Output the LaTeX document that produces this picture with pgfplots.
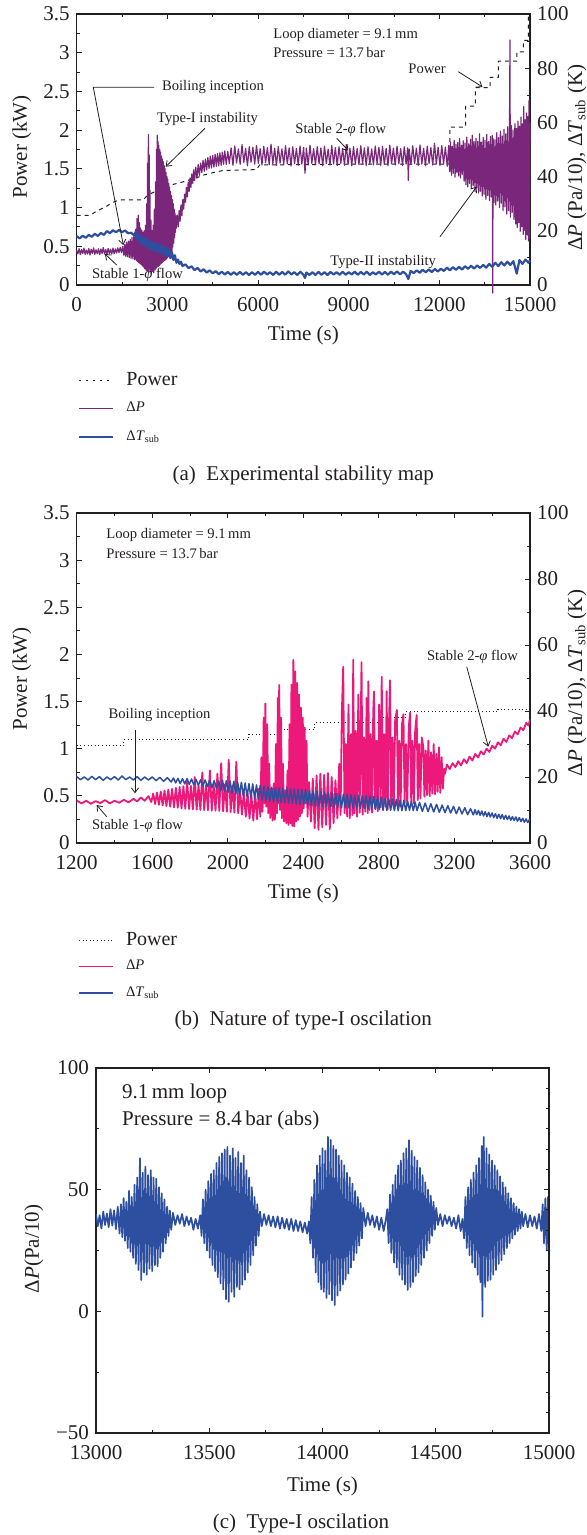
\documentclass[border=0pt]{standalone}
\usepackage{pgfplots}
\pgfplotsset{compat=1.18}
\usepackage{fontspec}
\setmainfont{Liberation Serif}
\usetikzlibrary{arrows.meta}
\definecolor{cpurple}{RGB}{122,38,122}
\definecolor{cblue}{RGB}{46,78,160}
\definecolor{cpink}{RGB}{236,24,122}
\definecolor{ctext}{RGB}{35,31,32}
\newcommand{\ticksz}{\fontsize{10.5}{12}\selectfont}
\newcommand{\annsz}{\fontsize{7.3}{8.5}\selectfont}
\pgfplotsset{
  myaxis/.style={
    scale only axis,
    scaled x ticks=false,
    scaled y ticks=false,
    /pgf/number format/assume math mode=true,
    /pgf/number format/1000 sep={},
    tick label style={font=\ticksz, text=ctext},
    xticklabel style={yshift=-2.8pt},
    label style={font=\ticksz, text=ctext},
    tick align=inside,
    major tick length=2.5pt,
    minor tick length=1.6pt,
    axis line style={line width=0.6pt, draw=ctext},
    tick style={line width=0.5pt, draw=ctext},
    every axis plot/.append style={line join=round},
  },
  leg/.style={
    legend style={draw=none, fill=none, inner sep=0pt, outer sep=0pt, row sep=0pt,
      nodes={inner sep=0pt, text=ctext},
      /tikz/every odd column/.append style={column sep=6pt}},
    legend cell align=left,
  },
}
\begin{document}
\begin{tikzpicture}
\useasboundingbox (0,0) rectangle (293.5pt,-767.5pt);
% ---------------- Panel (a) ----------------
\begin{axis}[myaxis,
  at={(38.35pt,-142.5pt)}, anchor=south west,
  width=226.65pt, height=135.5pt,
  xmin=0, xmax=15000, ymin=0, ymax=3.5,
  xtick={0,3000,6000,9000,12000,15000}, minor x tick num=1,
  ytick={0,0.5,1,1.5,2,2.5,3,3.5}, minor y tick num=1,
  xtick pos=both, ytick pos=left,
  xlabel={Time (s)}, ylabel={Power (kW)},
  xlabel style={at={(axis description cs:0.5,-0.1845)}, anchor=center},
  ylabel style={at={(axis description cs:-0.121,0.51)}, anchor=center},
]
\addplot[ctext, line width=0.5pt, dash pattern=on 2pt off 2pt] coordinates {
(0,0.90)(450,0.90)(600,0.94)(800,0.98)(1000,1.02)(1150,1.06)(1350,1.09)(1500,1.10)(2200,1.10)(2300,1.14)(2500,1.19)(2700,1.22)(2900,1.26)(3100,1.29)(3300,1.31)(3500,1.33)(3750,1.36)(4000,1.39)(4200,1.42)(4500,1.45)(4850,1.48)(5950,1.49)(6050,1.55)(9000,1.56)(12350,1.56)(12350,2.04)(12870,2.04)(12870,2.31)(13190,2.31)(13190,2.55)(13680,2.55)(13680,2.68)(13955,2.68)(13955,2.89)(14565,2.89)(14565,3.01)(14780,3.01)(14780,3.16)(14950,3.16)(14950,3.49)(15000,3.49)};
\end{axis}
\begin{axis}[myaxis, leg,
  at={(38.35pt,-142.5pt)}, anchor=south west,
  width=226.65pt, height=135.5pt,
  xmin=0, xmax=15000, ymin=0, ymax=100,
  axis x line=none, axis y line*=right,
  ytick={0,20,40,60,80,100}, minor y tick num=1,
  ylabel={Δ\textit{P} (Pa/10), Δ\textit{T}\textsubscript{sub} (K)},
  ylabel style={at={(axis description cs:1.104,0.47)}, anchor=center},
  clip=false,
  legend style={at={(axis description cs:0.003,-0.298)}, anchor=north west, nodes={minimum height=14.25pt}},
]
\addlegendimage{ctext, line width=0.5pt, dash pattern=on 1pt off 2.5pt}
\addlegendentry{\fontsize{10}{12}\selectfont Power}
\addplot[cpurple, line width=0.6pt] coordinates {
(0,12.8)(40,11.5)(80,13.4)(120,11.2)(160,13.1)(200,11.6)(240,13.6)(280,11.3)(320,12.9)(360,11.4)(400,13.5)(440,11.1)(480,13.2)(520,11.6)(560,13.7)(600,11.3)(640,13.0)(680,11.5)(720,13.4)(760,11.2)(800,13.3)(840,11.6)(880,13.8)(920,11.4)(960,13.1)(1000,11.3)(1040,13.5)(1080,11.6)(1120,13.2)(1160,11.4)(1200,13.6)(1240,11.5)(1280,13.3)(1320,11.8)(1360,13.7)(1400,11.9)(1440,13.9)(1480,12.0)(1520,14.2)
(1560,11.0)(1590,15.0)(1620,10.6)(1650,15.8)(1680,10.4)(1710,16.2)(1740,10.1)(1770,16.8)(1800,9.8)(1830,17.5)(1860,9.6)(1890,18.5)(1920,9.3)(1950,20.5)(1975,9.0)(1995,24.5)(2015,8.6)(2035,25.8)(2055,8.2)(2075,23.0)(2095,7.8)(2115,21.0)(2135,7.5)(2155,20.2)(2175,7.0)(2195,19.5)(2215,6.6)(2235,20.0)(2255,6.0)(2275,22.0)(2295,5.5)(2315,30.0)(2330,5.0)(2345,45.0)(2360,5.2)(2372,55.5)(2385,4.6)(2398,48.0)(2410,6.0)(2425,35.0)(2440,5.0)(2455,24.0)(2470,4.2)(2490,20.0)(2510,5.0)(2530,22.0)(2550,4.5)(2570,28.0)(2590,5.5)(2610,38.0)(2625,6.0)(2640,50.0)(2652,6.5)(2664,55.3)(2676,7.0)(2688,53.0)(2700,6.8)(2715,51.5)(2730,7.2)(2745,50.0)(2760,7.5)(2775,49.0)(2790,7.8)(2805,47.5)(2820,8.2)(2835,46.5)(2850,8.5)(2865,45.5)(2880,8.8)(2895,44.0)(2910,9.0)(2925,43.0)(2940,9.3)(2955,41.5)(2970,9.6)(2985,40.0)(3000,10.0)(3015,39.0)(3030,10.4)(3045,37.5)(3060,10.8)(3075,36.0)(3090,11.2)(3105,34.5)(3120,11.8)(3135,33.0)(3150,12.5)(3165,31.5)(3180,14.0)(3195,30.0)(3210,15.5)(3225,28.0)(3240,17.5)(3255,26.5)(3270,19.5)(3285,25.5)(3300,21.0)
(3330,25.8)(3360,21.5)(3390,27.5)(3420,23.5)(3450,29.5)(3480,25.5)(3510,31.5)(3540,28.0)(3570,33.5)(3600,30.5)(3630,36.0)(3660,32.5)(3690,38.0)(3720,34.5)(3750,39.5)(3780,36.0)(3810,41.0)(3840,37.5)(3870,42.5)(3900,38.5)(3940,43.5)(3980,39.5)(4020,44.5)(4060,40.5)(4100,45.0)(4140,41.5)(4180,46.0)(4220,42.0)(4260,46.5)(4300,42.5)(4340,47.0)(4380,43.0)(4420,47.5)(4460,43.2)(4500,47.8)(4540,43.5)(4580,48.2)(4620,43.8)(4660,48.5)(4700,44.0)(4740,48.8)(4780,44.2)(4820,49.0)(4860,44.5)(4900,49.5)(4950,44.5)(5000,49.3)
(5050,44.8)(5110,50.6)(5170,44.2)(5230,51.3)(5290,45.0)(5350,50.2)(5410,44.5)(5470,51.8)(5530,45.2)(5590,50.4)(5650,44.0)(5710,51.0)(5770,45.3)(5830,50.8)(5890,44.6)(5950,51.5)(6010,44.9)(6070,50.3)(6130,44.3)(6190,51.2)(6250,45.1)(6310,50.7)(6370,44.4)(6430,51.9)(6490,44.8)(6550,50.5)(6610,44.1)(6670,51.1)(6730,45.0)(6790,50.2)(6850,44.5)(6910,51.4)(6970,44.7)(7030,50.6)(7090,43.9)(7150,51.0)(7210,44.8)(7270,50.4)(7330,44.2)(7390,51.3)(7450,44.6)(7510,50.8)(7555,41.2)(7600,50.5)(7660,44.3)(7720,51.6)(7780,44.9)(7840,50.3)(7900,44.4)(7960,51.0)(8020,44.7)(8080,50.6)(8140,44.0)(8200,51.2)(8260,44.8)(8320,50.1)(8380,44.3)(8440,51.5)(8500,44.6)(8560,50.7)(8620,44.1)(8680,51.0)(8740,44.9)(8800,50.4)(8860,44.2)(8920,51.8)(8980,44.5)(9040,50.5)(9100,44.0)(9160,51.1)(9220,44.7)(9280,50.3)(9340,44.4)(9400,51.4)(9460,44.8)(9520,50.6)(9580,44.1)(9640,51.0)(9700,44.6)(9760,50.2)(9820,44.3)(9880,51.3)(9940,44.9)(10000,50.8)(10060,44.2)(10120,51.1)(10180,44.5)(10240,50.4)(10300,44.0)(10360,51.6)(10420,44.7)(10480,50.5)(10540,44.3)(10600,51.2)(10660,44.8)(10720,50.3)(10780,44.1)(10840,51.0)(10900,44.6)(10950,50.6)(10974,38.6)(11000,50.2)(11060,44.4)(11120,51.4)(11180,44.8)(11240,50.5)(11300,44.2)(11360,51.7)(11420,44.6)(11480,50.4)(11540,44.0)(11600,51.2)(11660,44.9)(11720,50.7)(11780,44.3)(11840,52.3)(11900,44.6)(11960,50.8)(12020,44.1)(12080,51.5)(12140,44.7)(12200,50.9)(12260,43.8)
(12310,51.5)(12340,41.8)(12370,52.8)(12400,40.5)(12430,51.2)(12460,41.2)(12490,53.4)(12520,39.8)(12550,51.9)(12580,41.5)(12610,52.6)(12640,40.2)(12670,54.0)(12700,39.5)(12730,51.6)(12760,40.8)(12790,53.2)(12820,38.2)(12850,52.4)(12880,37.0)(12910,54.6)(12940,36.2)(12970,52.1)(13000,37.5)(13030,53.8)(13060,35.6)(13090,55.3)(13120,36.8)(13150,52.9)(13180,34.5)(13210,54.2)(13240,35.8)(13270,53.0)(13300,33.9)(13330,55.8)(13360,34.6)(13390,52.7)(13420,32.8)(13450,54.5)(13480,33.5)(13510,53.3)(13540,31.6)(13570,55.6)(13600,33.0)(13630,52.9)(13660,31.2)(13690,54.8)(13720,32.5)(13750,55.2)(13765,-3.0)(13780,54.0)(13810,30.4)(13840,53.6)(13870,29.5)(13900,56.2)(13930,31.0)(13960,54.4)(13990,28.6)(14020,56.8)(14050,30.2)(14080,55.0)(14110,27.4)(14140,57.5)(14170,28.8)(14200,55.8)(14230,26.2)(14260,58.4)(14290,27.5)(14320,56.3)(14338,90.4)(14350,25.0)(14380,58.9)(14410,26.8)(14440,57.2)(14470,24.2)(14500,59.6)(14525,22.5)(14550,57.8)(14575,21.2)(14600,60.5)(14625,23.0)(14650,58.6)(14675,19.8)(14700,62.0)(14725,21.5)(14750,59.4)(14775,18.6)(14790,65.8)(14810,20.2)(14835,61.0)(14860,16.8)(14885,63.5)(14910,18.5)(14935,62.2)(14950,16.2)(14965,68.0)(14980,17.2)(15000,60.0)};
\addlegendentry{\annsz Δ\textit{P}}
\addplot[cblue, line width=1.1pt] coordinates {
(0,18.0)(100,17.2)(200,18.2)(300,17.4)(400,18.5)(500,17.8)(600,18.9)(700,18.1)(800,19.2)(900,18.5)(1000,19.9)(1100,19.1)(1200,20.2)(1300,19.5)(1400,20.3)(1500,19.5)(1600,20.1)(1700,19.1)(1800,19.3)(1900,18.3)
(1950,19.6)(2000,16.6)(2050,18.8)(2100,15.6)(2150,18.1)(2200,14.8)(2250,17.4)(2300,14.0)(2350,16.8)(2400,13.4)(2450,16.2)(2500,12.8)(2550,15.7)(2600,12.5)(2650,15.4)(2700,12.1)(2750,15.0)(2800,11.6)(2850,14.5)(2900,11.2)(2950,14.0)(3000,10.6)(3050,13.2)(3100,9.9)(3150,12.2)(3200,9.2)(3250,11.0)(3300,8.2)
(3350,9.4)(3400,7.8)(3450,8.6)(3500,7.0)(3600,7.6)(3700,6.2)(3800,6.9)(3900,5.5)(4000,6.3)(4100,5.0)(4200,5.8)(4300,4.6)(4400,5.4)(4500,4.3)(4600,5.1)(4700,4.0)(4800,4.9)(4900,3.9)(5000,4.8)(5100,3.8)(5200,4.7)(5300,3.8)(5400,4.8)(5500,3.8)(5600,4.7)(5700,3.7)(5800,4.7)(5900,3.8)
(6000,4.8)(6100,3.8)(6200,4.9)(6300,3.9)(6400,4.7)(6500,3.7)(6600,4.9)(6700,3.8)(6800,4.8)(6900,3.8)(7000,5.0)(7100,3.9)(7200,4.7)(7300,3.7)(7400,4.9)(7500,3.8)(7555,2.6)(7600,4.6)(7700,3.7)(7800,4.7)(7900,3.7)(8000,4.8)(8100,3.8)(8200,4.7)(8300,3.7)(8400,4.8)(8500,3.9)(8600,4.7)(8700,3.8)(8800,4.9)(8900,3.8)(9000,4.7)(9100,3.9)(9200,4.9)(9300,3.8)(9400,4.8)(9500,3.9)(9600,4.9)(9700,3.7)(9800,4.7)(9900,3.9)(10000,4.9)(10100,3.9)(10200,4.8)(10300,3.8)(10400,4.9)(10500,4.0)(10600,5.0)(10700,3.9)(10800,4.9)(10900,4.0)(10974,2.2)(11050,5.2)
(11150,4.4)(11250,5.4)(11350,4.5)(11450,5.6)(11550,4.7)(11650,5.7)(11750,4.8)(11850,5.9)(11950,5.0)(12050,6.0)(12150,5.2)(12250,6.4)(12350,5.4)(12450,6.6)(12550,5.6)(12650,6.7)(12750,5.7)(12850,6.9)(12950,6.0)(13050,7.1)(13150,6.1)(13250,7.2)(13350,6.3)(13450,7.4)(13550,6.4)(13650,7.8)(13750,6.7)(13850,8.2)(13950,7.0)(14050,8.4)(14150,7.2)(14250,8.6)(14350,7.4)(14450,8.8)(14560,4.2)(14650,9.2)(14750,7.8)(14850,9.4)(14950,8.2)(15000,9.1)};
\addlegendentry{\annsz Δ\textit{T}\textsubscript{sub}}
\end{axis}
% ---------------- Panel (b) ----------------
\begin{axis}[myaxis,
  at={(38.35pt,-421.5pt)}, anchor=south west,
  width=226.65pt, height=165pt,
  xmin=1200, xmax=3600, ymin=0, ymax=3.5,
  xtick={1200,1600,2000,2400,2800,3200,3600}, minor x tick num=1,
  ytick={0,0.5,1,1.5,2,2.5,3,3.5}, minor y tick num=1,
  xtick pos=both, ytick pos=left,
  xlabel={Time (s)}, ylabel={Power (kW)},
  xlabel style={at={(axis description cs:0.5,-0.1515)}, anchor=center},
  ylabel style={at={(axis description cs:-0.121,0.497)}, anchor=center},
]
\addplot[ctext, line width=0.5pt, dash pattern=on 0.5pt off 1.3pt] coordinates {
(1200,1.03)(1450,1.03)(1450,1.10)(2110,1.10)(2110,1.155)(2280,1.155)(2280,1.20)(2460,1.20)(2460,1.28)(2820,1.28)(2820,1.33)(2940,1.33)(2940,1.39)(3430,1.39)(3430,1.42)(3600,1.42)};
\end{axis}
\begin{axis}[myaxis, leg,
  at={(38.35pt,-421.5pt)}, anchor=south west,
  width=226.65pt, height=165pt,
  xmin=1200, xmax=3600, ymin=0, ymax=100,
  axis x line=none, axis y line*=right,
  ytick={0,20,40,60,80,100}, minor y tick num=1,
  ylabel={Δ\textit{P} (Pa/10), Δ\textit{T}\textsubscript{sub} (K)},
  ylabel style={at={(axis description cs:1.104,0.485)}, anchor=center},
  legend style={at={(axis description cs:0.003,-0.2538)}, anchor=north west, nodes={minimum height=13.25pt}},
]
\addlegendimage{ctext, line width=0.5pt, dash pattern=on 0.5pt off 1.3pt}
\addlegendentry{\fontsize{10}{12}\selectfont Power}
\addplot[cpink, line width=0.9pt] coordinates {
(1200,12.9)(1225,12.0)(1250,12.8)(1275,11.9)(1300,12.7)(1325,12.1)(1350,13.0)(1375,12.0)(1400,12.8)(1425,12.2)(1450,13.1)(1475,12.3)(1500,13.4)(1520,12.6)(1540,13.8)(1560,12.8)(1580,14.2)(1595,12.4)
(1605,15.0)(1615,11.8)(1625,15.3)(1635,11.6)(1645,15.6)(1655,11.4)(1665,15.9)(1675,11.2)(1685,16.2)(1695,11.0)(1705,16.4)(1715,10.8)(1725,16.7)(1735,10.7)(1745,17.0)(1755,10.5)(1765,17.2)(1775,10.4)(1785,18.6)(1795,10.3)
(1805,17.3)(1815,10.2)(1825,20.0)(1835,10.1)(1845,17.5)(1855,10.0)(1865,21.4)(1875,10.0)(1885,17.6)(1895,9.9)(1905,22.0)(1915,9.8)(1925,17.8)(1935,9.8)(1945,21.0)(1955,9.7)(1965,24.2)(1975,9.6)(1985,17.8)(1995,9.5)(2005,25.2)(2015,9.4)(2025,17.5)(2035,9.2)(2045,24.6)(2055,9.0)
(2065,16.0)(2075,8.6)(2085,15.5)(2095,8.0)(2105,15.2)(2115,7.4)(2125,14.6)(2135,6.8)(2145,15.0)(2155,7.2)(2165,16.5)
(2172,8.0)(2178,26.0)(2184,9.5)(2190,38.0)(2195,12.0)(2199,42.3)(2204,11.0)(2209,36.0)(2214,9.0)(2219,24.0)(2225,7.6)(2231,16.5)(2237,6.8)(2243,18.0)
(2249,7.0)(2255,30.0)(2260,9.0)(2265,44.0)(2269,12.0)(2272,47.9)(2277,10.0)(2282,38.0)(2287,7.5)(2292,24.0)(2298,6.5)(2304,16.0)(2310,6.0)(2316,22.0)
(2321,5.5)(2327,36.0)(2332,6.0)(2337,48.0)(2342,5.2)(2347,55.5)(2352,5.0)(2357,52.0)(2362,6.5)(2367,48.5)(2372,7.0)(2377,45.0)(2382,8.0)(2387,41.0)(2392,9.0)(2397,38.0)(2402,10.5)(2407,35.0)(2412,12.0)(2417,31.0)(2422,8.0)
(2430,18.5)(2440,6.5)(2450,19.5)(2460,4.5)(2470,20.5)(2480,4.0)(2490,21.0)(2500,4.8)(2510,20.6)(2520,5.5)(2530,21.2)(2540,4.2)(2550,20.0)(2560,6.0)(2570,19.0)(2580,7.5)
(2590,24.0)(2597,8.5)(2604,40.0)(2611,53.4)(2618,9.0)(2625,30.0)(2632,8.0)(2639,42.0)(2646,7.5)(2653,33.0)(2660,8.5)(2664,55.5)(2670,9.0)(2677,34.0)(2684,8.0)(2691,45.0)(2698,9.2)(2704,37.0)(2708,54.8)(2714,8.6)(2721,32.0)(2728,9.5)(2735,44.0)(2741,9.0)(2744,49.0)(2750,10.0)(2757,33.0)(2764,9.2)(2770,40.0)(2774,45.9)(2780,10.4)(2787,31.0)(2794,9.6)(2801,42.0)(2808,10.8)(2815,50.4)(2821,10.0)(2828,33.0)(2835,11.0)(2841,46.0)(2847,10.2)(2853,35.0)(2859,49.3)(2865,11.2)(2872,32.0)(2879,10.6)(2886,37.0)(2895,40.3)(2901,11.5)(2908,31.0)(2915,11.0)(2922,36.0)(2930,39.0)(2936,12.0)(2943,30.0)(2950,11.5)(2958,35.0)(2965,39.5)(2971,12.5)(2978,31.0)(2985,12.0)(2992,34.0)(3000,38.8)(3006,13.0)(3013,30.0)(3020,13.5)(3027,32.0)(3035,29.2)(3041,14.0)(3048,28.0)(3055,14.5)(3062,31.0)(3069,14.2)(3076,27.5)(3083,15.0)(3090,30.0)(3097,14.8)(3104,27.0)(3111,15.5)(3118,29.0)(3125,15.2)(3132,26.0)(3139,16.5)(3145,22.5)(3150,21.0)
(3160,23.8)(3175,22.4)(3190,24.2)(3205,23.0)(3220,24.8)(3235,23.5)(3250,25.4)(3265,24.2)(3280,26.2)(3295,25.0)(3310,27.0)(3325,25.9)(3340,27.8)(3355,26.8)(3370,28.6)(3385,27.6)(3400,29.5)(3415,28.6)(3430,30.5)(3445,29.6)(3460,31.6)(3475,30.6)(3490,32.6)(3505,31.8)(3520,33.8)(3535,32.9)(3550,35.0)(3565,34.2)(3580,36.4)(3592,35.6)(3600,37.4)};
\addlegendentry{\annsz Δ\textit{P}}
\addplot[cblue, line width=0.75pt] coordinates {
(1200,20.1)(1220,19.2)(1240,20.0)(1260,19.1)(1280,20.2)(1300,19.2)(1320,20.1)(1340,19.0)(1360,20.0)(1380,19.2)(1400,20.1)(1420,19.1)(1440,20.3)(1460,19.2)(1480,20.0)(1500,19.1)(1520,20.1)(1540,19.0)(1560,20.0)(1580,19.1)(1600,20.0)(1620,18.9)(1640,19.9)(1660,18.7)(1680,19.8)(1700,18.5)
(1712,19.7)(1724,18.2)(1736,19.6)(1748,18.0)(1760,19.5)(1772,17.9)(1784,19.5)(1796,17.8)(1808,19.4)(1820,17.6)(1832,19.3)(1844,17.5)(1856,19.2)(1868,17.3)(1880,19.1)(1892,17.1)(1904,19.0)(1916,16.8)(1928,18.9)(1940,16.6)(1952,18.8)
(1962,15.8)(1972,19.0)(1982,15.6)(1992,18.9)(2002,15.4)(2012,18.8)(2022,15.1)(2032,18.7)(2042,14.9)(2052,18.5)(2062,14.6)(2072,18.4)(2082,14.3)(2092,18.2)(2102,14.1)(2112,18.0)(2122,13.8)(2132,17.9)(2142,13.6)(2152,17.6)(2162,13.3)(2172,17.5)(2182,13.0)(2192,17.2)(2202,12.8)(2212,17.1)(2222,12.6)(2232,16.9)(2242,12.5)(2252,16.8)(2262,12.4)(2272,16.7)(2282,12.2)(2292,16.6)(2302,12.1)(2312,16.6)(2322,12.0)(2332,16.4)(2342,11.9)(2352,16.4)(2362,11.8)(2372,16.3)(2382,11.7)(2392,16.2)(2402,11.7)(2412,16.2)(2422,11.6)(2432,16.0)(2442,11.5)(2452,15.9)(2462,11.3)(2472,15.8)(2482,11.2)(2492,15.6)(2502,11.1)(2512,15.5)(2522,11.0)(2532,15.3)(2542,10.9)(2552,15.2)(2562,10.8)(2572,15.0)(2582,10.8)(2592,14.9)(2602,10.7)(2612,14.8)(2622,10.7)(2632,14.7)(2642,10.6)(2652,14.6)(2662,10.6)(2672,14.5)(2682,10.5)(2692,14.4)(2702,10.5)(2712,14.4)(2722,10.5)(2732,14.3)(2742,10.4)(2752,14.2)(2762,10.3)(2772,14.1)(2782,10.2)(2792,14.0)(2802,10.1)(2812,13.9)(2822,10.0)(2832,13.7)(2842,9.9)(2852,13.5)(2862,9.9)(2872,13.4)(2882,9.8)(2892,13.2)(2902,9.8)(2912,13.0)(2922,9.8)(2932,12.9)(2942,9.8)(2952,12.7)(2962,9.9)(2972,12.6)(2982,9.8)(2992,12.4)(3002,9.8)
(3015,12.3)(3030,9.6)(3045,12.1)(3060,9.5)(3075,11.9)(3090,9.4)(3105,11.7)(3120,9.3)(3135,11.5)(3150,9.2)(3165,11.3)(3180,9.1)(3195,11.1)(3210,8.9)(3225,10.9)(3240,8.8)(3255,10.7)(3270,8.6)(3285,10.4)(3300,8.5)
(3309,10.1)(3318,8.6)(3327,9.9)(3336,8.4)(3345,9.7)(3354,8.2)(3363,9.5)(3372,8.0)(3381,9.3)(3390,7.9)(3399,9.1)(3408,7.7)(3417,8.9)(3426,7.5)(3435,8.7)(3444,7.4)(3453,8.6)(3462,7.2)(3471,8.4)(3480,7.1)(3489,8.2)(3498,6.9)(3507,8.0)(3516,6.8)(3525,7.9)(3534,6.6)(3543,7.7)(3552,6.5)(3561,7.5)(3570,6.3)(3579,7.3)(3588,6.2)(3597,7.1)(3600,6.5)};
\addlegendentry{\annsz Δ\textit{T}\textsubscript{sub}}
\end{axis}
% ---------------- Panel (c) ----------------
\begin{axis}[myaxis,
  at={(48pt,-716.5pt)}, anchor=south west,
  width=226.5pt, height=182.5pt,
  xmin=13000, xmax=15000, ymin=-50, ymax=100,
  xtick={13000,13500,14000,14500,15000}, minor x tick num=1,
  ytick={-50,0,50,100}, yticklabels={−50,0,50,100}, minor y tick num=1,
  xtick pos=both, ytick pos=left,
  xlabel={Time (s)}, ylabel={Δ\textit{P}(Pa/10)},
  xlabel style={at={(axis description cs:0.5,-0.147)}, anchor=center},
  ylabel style={at={(axis description cs:-0.137,0.504)}, anchor=center},
]
\addplot[cblue, line width=0.85pt] coordinates {
(13000,40.0)(13008,35.0)(13016,39.5)(13024,34.0)(13032,41.0)(13040,35.5)(13048,40.2)(13056,34.6)(13064,42.0)(13072,35.2)(13080,41.5)(13088,33.8)(13096,43.0)
(13104,32.0)(13110,44.0)(13116,30.5)(13122,46.5)(13128,29.0)(13134,45.0)(13140,26.0)(13146,49.5)(13152,24.5)(13158,47.0)(13164,22.0)(13170,52.0)(13176,19.5)(13182,55.0)(13188,17.0)(13194,62.9)(13200,12.9)(13206,57.0)(13212,16.0)(13218,59.5)(13224,15.0)(13230,56.0)(13236,17.5)(13242,58.0)(13248,16.5)(13254,55.0)(13260,19.0)(13266,54.5)(13272,18.5)(13278,51.0)(13284,22.0)(13290,48.5)(13296,24.5)(13302,46.0)(13308,28.0)(13314,43.0)(13320,31.0)(13326,41.5)(13332,33.5)
(13340,40.5)(13350,35.5)(13360,39.5)(13370,36.0)(13380,40.0)(13390,35.0)(13400,39.0)(13410,35.5)(13420,38.5)(13430,33.5)(13440,38.0)(13450,34.0)(13460,39.5)
(13466,31.0)(13472,46.0)(13478,28.0)(13484,50.0)(13490,25.0)(13496,53.5)(13502,22.0)(13508,56.5)(13514,19.0)(13520,58.0)(13526,16.5)(13532,61.0)(13538,14.0)(13544,63.5)(13550,11.5)(13556,65.0)(13562,9.0)(13568,66.5)(13574,5.0)(13580,67.6)(13586,3.9)(13592,64.0)(13598,8.0)(13604,67.0)(13610,6.0)(13616,63.0)(13622,10.0)(13628,65.5)(13634,9.0)(13640,61.0)(13646,11.0)(13652,64.0)(13658,13.0)(13664,58.0)(13670,16.0)(13676,55.0)(13682,19.0)(13688,51.0)(13694,23.0)(13700,47.0)(13706,27.0)(13712,44.0)(13718,31.0)(13724,41.0)
(13732,35.0)(13742,40.0)(13752,35.5)(13762,39.5)(13772,35.0)(13782,39.0)(13792,34.5)(13802,39.0)(13812,34.0)(13822,38.5)(13832,34.0)(13842,38.0)(13852,33.5)(13862,38.0)(13872,33.0)(13882,37.5)(13892,33.0)(13902,37.0)(13912,32.5)(13922,36.5)(13932,32.0)(13940,37.0)
(13946,28.0)(13952,47.0)(13958,22.0)(13964,54.0)(13970,16.0)(13976,60.0)(13982,12.0)(13988,64.0)(13994,9.0)(14000,67.0)(14006,8.0)(14012,66.0)(14018,5.5)(14024,71.7)(14030,7.0)(14036,70.5)(14042,4.5)(14048,68.0)(14054,2.6)(14060,66.5)(14066,6.5)(14072,64.0)(14078,8.5)(14084,62.0)(14090,11.0)(14096,60.0)(14102,13.0)(14108,57.0)(14114,15.5)(14120,55.0)(14126,18.0)(14132,52.5)(14138,21.0)(14144,49.5)(14150,24.0)(14156,47.0)(14162,27.0)(14168,44.5)(14174,30.0)(14180,42.5)
(14190,35.0)(14200,40.5)(14210,35.5)(14220,39.5)(14230,34.5)(14240,39.0)(14250,33.5)(14260,38.5)(14270,33.0)(14280,38.0)
(14286,42.0)(14292,28.0)(14298,48.0)(14304,24.0)(14310,52.0)(14316,20.0)(14322,56.0)(14328,18.0)(14334,60.0)(14340,15.0)(14346,62.0)(14352,13.0)(14358,65.0)(14364,11.0)(14370,67.0)(14376,8.8)(14382,70.3)(14388,10.0)(14394,66.0)(14400,12.0)(14406,63.5)(14412,14.5)(14418,62.0)(14424,16.0)(14430,59.0)(14436,19.0)(14442,56.0)(14448,22.0)(14454,53.0)(14460,25.0)(14466,50.0)(14472,28.0)(14478,47.5)(14484,31.0)(14490,45.0)(14496,33.5)(14502,42.5)
(14510,35.5)(14520,40.0)(14530,35.0)(14540,39.5)(14550,36.0)(14560,39.0)(14570,35.0)(14580,38.5)(14590,34.0)(14600,39.5)(14610,33.0)(14618,38.0)
(14625,30.0)(14631,47.0)(14637,26.0)(14643,51.0)(14649,23.0)(14655,54.0)(14661,20.0)(14667,57.0)(14673,18.0)(14679,60.0)(14685,15.0)(14691,63.0)(14697,12.0)(14703,68.0)(14706,-2.2)(14712,71.7)(14718,10.0)(14724,67.0)(14730,12.5)(14736,64.5)(14742,13.0)(14748,62.0)(14754,15.0)(14760,60.0)(14766,17.0)(14772,58.0)(14778,19.5)(14784,55.5)(14790,21.0)(14796,53.0)(14802,23.5)(14808,51.0)(14814,26.0)(14820,48.5)(14826,28.0)(14832,46.5)(14838,30.0)(14844,44.5)(14850,31.5)(14856,43.0)(14862,33.0)(14868,42.0)(14874,34.0)(14880,41.0)(14886,35.0)
(14896,40.0)(14906,34.5)(14916,39.5)(14926,35.0)(14936,39.0)(14946,34.0)(14956,40.0)(14966,33.0)
(14972,44.0)(14978,28.0)(14984,46.5)(14990,25.0)(14996,47.0)(15000,30.0)};
\end{axis}
\begin{axis}[myaxis,
  at={(48pt,-716.5pt)}, anchor=south west,
  width=226.5pt, height=182.5pt,
  xmin=13000, xmax=15000, ymin=-50, ymax=100,
  axis x line=none, axis y line*=right,
  ytick={-50,0,50,100}, yticklabels={}, minor y tick num=5,
]
\end{axis}
% ---------------- Annotations ----------------
\begin{scope}[x=0.5pt, y=-0.5pt, ctext, line width=0.4pt, >={Straight Barb[length=2.4pt,width=3.6pt]}]
\node[anchor=west, font=\annsz, inner sep=0pt] at (273,35) {Loop diameter = 9.1\,mm};
\node[anchor=west, font=\annsz, inner sep=0pt] at (273,53) {Pressure = 13.7\,bar};
\node[anchor=west, font=\annsz, inner sep=0pt] at (161.7,87.3) {Boiling inception};
\draw[->] (154,87.3) -- (93.3,87.3) -- (123.3,245);
\node[anchor=west, font=\annsz, inner sep=0pt] at (156.7,119) {Type-I instability};
\draw[->] (205,128.3) -- (165.7,166.7);
\node[anchor=west, font=\annsz, inner sep=0pt] at (295,130) {Stable 2-\textit{φ} flow};
\draw[->] (336.7,138.3) -- (348.3,150.5);
\node[anchor=west, font=\annsz, inner sep=0pt] at (408,69) {Power};
\draw[->] (458.3,71.7) -- (482.5,87);
\node[anchor=west, font=\annsz, inner sep=0pt] at (330,261.7) {Type-II instability};
\draw[->] (440,236.7) -- (476.7,186.7);
\node[anchor=west, font=\annsz, inner sep=0pt] at (91.7,275) {Stable 1-\textit{φ} flow};
\draw[->] (116.7,265) -- (105,254);
% panel b
\node[anchor=west, font=\annsz, inner sep=0pt] at (106,535) {Loop diameter = 9.1\,mm};
\node[anchor=west, font=\annsz, inner sep=0pt] at (106,553.3) {Pressure = 13.7\,bar};
\node[anchor=west, font=\annsz, inner sep=0pt] at (108.3,715) {Boiling inception};
\draw[->] (135,730) -- (135,793.3);
\node[anchor=west, font=\annsz, inner sep=0pt] at (91.7,826) {Stable 1-\textit{φ} flow};
\draw[->] (106.7,816.7) -- (96.7,805);
\node[anchor=west, font=\annsz, inner sep=0pt] at (426.7,656.7) {Stable 2-\textit{φ} flow};
\draw[->] (466.7,666.7) -- (488.3,746.7);
% panel c
\node[anchor=west, font=\ticksz, inner sep=0pt] at (121.7,1093.3) {9.1\,mm loop};
\node[anchor=west, font=\ticksz, inner sep=0pt] at (121.7,1120) {Pressure = 8.4\,bar (abs)};
% captions
\node[font=\ticksz] at (303.3,475) {(a)\enspace Experimental stability map};
\node[font=\ticksz] at (303.3,1020) {(b)\enspace Nature of type-I oscilation};
\node[font=\ticksz] at (301,1523) {(c)\enspace Type-I oscilation};
\end{scope}
\end{tikzpicture}
\end{document}
